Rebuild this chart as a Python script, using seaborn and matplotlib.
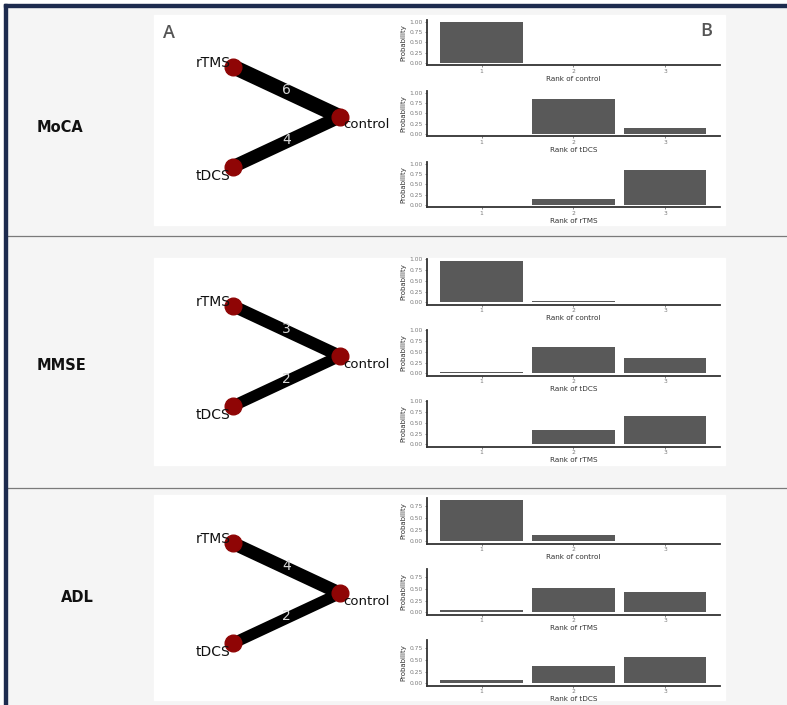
import matplotlib
matplotlib.use("Agg")
import matplotlib.pyplot as plt
from matplotlib.patches import Rectangle
import seaborn as sns
import pandas as pd

sns.set_style("white")
plt.rcParams["font.family"] = ["DejaVu Sans"]

# ---- data -------------------------------------------------------------
outcomes = ["MoCA", "MMSE", "ADL"]
ranks = ["1", "2", "3"]

# rank probabilities, one list per treatment (rank 1, 2, 3)
moca_treatments = ["control", "tDCS", "rTMS"]
moca_control = [1.00, 0.00, 0.00]
moca_tdcs = [0.00, 0.85, 0.15]
moca_rtms = [0.00, 0.15, 0.85]

mmse_treatments = ["control", "tDCS", "rTMS"]
mmse_control = [0.96, 0.04, 0.00]
mmse_tdcs = [0.04, 0.61, 0.35]
mmse_rtms = [0.00, 0.34, 0.66]

adl_treatments = ["control", "rTMS", "tDCS"]
adl_control = [0.87, 0.13, 0.00]
adl_rtms = [0.06, 0.51, 0.43]
adl_tdcs = [0.07, 0.37, 0.56]

# number of studies on each comparison with control
edge_treatments = ["rTMS", "tDCS"]
moca_edge_n = [6, 4]
mmse_edge_n = [3, 2]
adl_edge_n = [4, 2]

rows = [
    (outcomes[0], moca_treatments, [moca_control, moca_tdcs, moca_rtms], moca_edge_n),
    (outcomes[1], mmse_treatments, [mmse_control, mmse_tdcs, mmse_rtms], mmse_edge_n),
    (outcomes[2], adl_treatments, [adl_control, adl_rtms, adl_tdcs], adl_edge_n),
]

# ---- figure & layout helpers ------------------------------------------
W, H = 787, 705
fig = plt.figure(figsize=(W / 100, H / 100), dpi=100)
fig.patch.set_facecolor("white")


def px_axes(x0, y0, x1, y1):
    return fig.add_axes([x0 / W, 1 - y1 / H, (x1 - x0) / W, (y1 - y0) / H])


bg = px_axes(0, 0, W, H)
bg.set_xlim(0, W)
bg.set_ylim(H, 0)
bg.axis("off")

navy = "#1d2b4e"
bg.add_patch(Rectangle((4, 4), W, H, color="#f5f5f5", zorder=0))
bg.add_patch(Rectangle((4, 4), W, 3, color=navy, zorder=2))
bg.add_patch(Rectangle((4, 4), 3, H, color=navy, zorder=2))
for ys in (236, 488):
    bg.plot([7, W], [ys, ys], color="#7a7a7a", lw=0.9, zorder=1)

panel_boxes = [(154, 15, 725, 225), (154, 258, 725, 465), (154, 495, 725, 700)]
for (x0, y0, x1, y1) in panel_boxes:
    bg.add_patch(Rectangle((x0, y0), x1 - x0, y1 - y0, color="white", zorder=1))

row_label_pos = [(60, 128), (61, 365), (77, 597)]
for (name, *_), (lx, ly) in zip(rows, row_label_pos):
    bg.text(lx, ly, name, ha="center", va="center", fontsize=10.5,
            fontweight="bold", color="#111111", zorder=3)

bg.text(169, 33, "A", ha="center", va="center", fontsize=13,
        family=["Open Sans", "DejaVu Sans"], fontweight="semibold", color="#555555", zorder=3)
bg.text(706, 31, "B", ha="center", va="center", fontsize=13,
        family=["Open Sans", "DejaVu Sans"], fontweight="semibold", color="#555555", zorder=3)

# ---- network plots ----------------------------------------------------
node_xy = {"rTMS": (0.0, 1.0), "control": (1.0, 0.5), "tDCS": (0.0, 0.0)}
net_base_y = [166.7, 406.0, 643.3]  # pixel row of the bottom node
ux, uy, x_origin = 107, 100, 233

for (name, treatments, probs, edge_n), by in zip(rows, net_base_y):
    ax = px_axes(x_origin - 0.7 * ux, by - 1.5 * uy, x_origin + 1.7 * ux, by + 0.5 * uy)
    ax.set_xlim(-0.7, 1.7)
    ax.set_ylim(-0.5, 1.5)
    ax.axis("off")
    ax.patch.set_alpha(0)
    cx, cy = node_xy["control"]
    for trt, n in zip(edge_treatments, edge_n):
        tx, ty = node_xy[trt]
        ax.plot([tx, cx], [ty, cy], color="black", lw=(9.5 + 0.9 * n) * 0.72,
                solid_capstyle="butt", zorder=1)
        ax.text((tx + cx) / 2, (ty + cy) / 2 + 0.02, str(n), ha="center", va="center",
                fontsize=10, color="#d6d6d6", zorder=2)
    for trt, (x, y) in node_xy.items():
        ax.plot(x, y, "o", ms=12, color="#8f0505", mec="#8f0505", zorder=3)
    ax.text(node_xy["rTMS"][0] - 0.02, node_xy["rTMS"][1] + 0.04, "rTMS",
            ha="right", va="center", fontsize=10, color="#111111", zorder=4)
    ax.text(node_xy["tDCS"][0] - 0.02, node_xy["tDCS"][1] - 0.09, "tDCS",
            ha="right", va="center", fontsize=10, color="#111111", zorder=4)
    ax.text(cx + 0.03, cy - 0.08, "control",
            ha="left", va="center", fontsize=9.5, color="#111111", zorder=4)

# ---- rank probability bar charts --------------------------------------
bar_tops = [19.6, 259.0, 498.0]
bar_step, bar_h = 71.0, 45.5
bx0, bx1 = 426.7, 720.0

for (name, treatments, probs, edge_n), top in zip(rows, bar_tops):
    ymax = max(max(p) for p in probs)
    for i, (trt, vals) in enumerate(zip(treatments, probs)):
        t = top + bar_step * i
        ax = px_axes(bx0, t, bx1, t + bar_h)
        df = pd.DataFrame({"rank": ranks, "prob": vals})
        sns.barplot(data=df, x="rank", y="prob", color="#595959", saturation=1,
                    width=0.9, errorbar=None, edgecolor="none", ax=ax)
        ax.set_xlim(-0.6, 2.6)
        ax.set_ylim(-0.05 * ymax, 1.05 * ymax)
        yt = [v for v in (0, 0.25, 0.5, 0.75, 1.0) if v <= 1.05 * ymax]
        ax.set_yticks(yt)
        ax.set_yticklabels([f"{v:.2f}" for v in yt])
        ax.patch.set_alpha(0)
        for side in ("top", "right"):
            ax.spines[side].set_visible(False)
        for side in ("left", "bottom"):
            ax.spines[side].set_color("#333333")
            ax.spines[side].set_linewidth(1.3)
        ax.tick_params(axis="both", labelsize=4.3, labelcolor="#7a7a7a", color="#555555",
                       length=1.5, width=0.5, pad=1.2, left=True, bottom=True)
        ax.set_ylabel("Probability", fontsize=5, color="#333333", labelpad=2)
        ax.set_xlabel(f"Rank of {trt}", fontsize=5.2, color="#333333", labelpad=1.2)

fig.savefig("out.png", dpi=100, facecolor=fig.get_facecolor())
